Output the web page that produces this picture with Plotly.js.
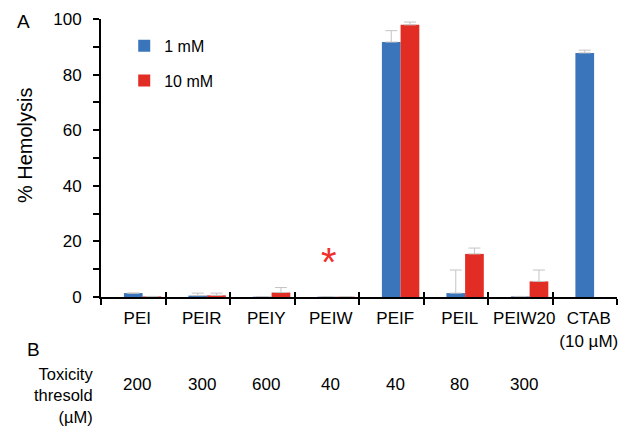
<!DOCTYPE html>
<html>
<head>
<meta charset="utf-8">
<script src="https://cdn.plot.ly/plotly-3.0.1.min.js"></script>
<style>html,body{margin:0;padding:0;background:#fff;}#chart{width:621px;height:427px;}</style>
</head>
<body>
<div id="chart"></div>
<script>
// ---- data ----
const categories = ["PEI", "PEIR", "PEIY", "PEIW", "PEIF", "PEIL", "PEIW20", "CTAB<br>(10 µM)"];
const hemolysis1mM = [1.4, 0.5, 0.1, 0.1, 91.7, 1.4, 0.2, 87.8];
const error1mM = [0.0, 0.9, 0.0, 0.0, 4.1, 8.3, 0.0, 1.0];
const hemolysis10mM = [0.2, 0.6, 1.6, 0.1, 97.9, 15.5, 5.6, null];
const error10mM = [0.0, 0.8, 1.8, 0.0, 1.0, 2.1, 4.1, null];
const toxicityThreshold = ["200", "300", "600", "40", "40", "80", "300", ""];
const yTicks = [0, 20, 40, 60, 80, 100];

const FONT = "Liberation Sans, Arial, sans-serif";
const blue = "#3a74ba";
const red = "#e22d24";
const errColor = "#c4c4c4";

const barW = 0.29;

const traces = [
  {
    type: "bar", name: "1 mM", x: categories, y: hemolysis1mM,
    width: categories.map(() => barW), offset: categories.map(() => -barW / 2),
    marker: {color: blue, line: {width: 0}},
    error_y: {type: "data", symmetric: false, array: error1mM, arrayminus: categories.map(() => 0),
              color: errColor, thickness: 1, width: 6},
    legendgroup: "a", hoverinfo: "skip"
  },
  {
    type: "bar", name: "10 mM", x: categories, y: hemolysis10mM,
    width: categories.map(() => barW), offset: categories.map(() => barW / 2),
    marker: {color: red, line: {width: 0}},
    error_y: {type: "data", symmetric: false, array: error10mM, arrayminus: categories.map(() => 0),
              color: errColor, thickness: 1, width: 6},
    legendgroup: "b", hoverinfo: "skip"
  },
  {
    type: "bar", x: categories, y: categories.map(() => 0), xaxis: "x2",
    showlegend: false, hoverinfo: "skip", marker: {color: "rgba(0,0,0,0)"}
  }
];

const annotations = [
  {text: "A", xref: "paper", yref: "paper", x: -0.167, y: 0.99, xanchor: "left", yanchor: "middle",
   showarrow: false, font: {family: FONT, size: 19, color: "#000"}},
  {text: "B", xref: "paper", yref: "paper", x: -0.148, y: -0.19, xanchor: "left", yanchor: "middle",
   showarrow: false, font: {family: FONT, size: 19, color: "#000"}},
  {text: "% Hemolysis", xref: "paper", yref: "paper", x: -0.147, y: 0.547, xanchor: "center", yanchor: "middle",
   textangle: -90, showarrow: false, font: {family: FONT, size: 20, color: "#000"}},
  {text: "Toxicity<br>thresold<br>(µM)", xref: "paper", yref: "paper", x: -0.012, y: -0.353,
   xanchor: "right", yanchor: "middle", align: "right", showarrow: false,
   font: {family: FONT, size: 16.5, color: "#000"}},
  {text: "*", xref: "x", yref: "y", x: "PEIW", y: 12.5, xshift: 2, showarrow: false,
   font: {family: FONT, size: 40, color: "#f0302a"}, yanchor: "middle"}
];
categories.forEach((c, i) => {
  if (toxicityThreshold[i]) {
    annotations.push({text: toxicityThreshold[i], xref: "x", yref: "paper", x: c, y: -0.315,
      xshift: 4, yanchor: "middle", showarrow: false, font: {family: FONT, size: 17, color: "#000"}});
  }
});

const layout = {
  width: 621, height: 427,
  margin: {l: 101, r: 4, t: 19, b: 130},
  paper_bgcolor: "#fff", plot_bgcolor: "#fff",
  font: {family: FONT, size: 16, color: "#000"},
  barmode: "overlay",
  showlegend: true,
  legend: {x: 0.045, y: 0.965, xanchor: "left", yanchor: "top", bgcolor: "rgba(0,0,0,0)",
           font: {family: FONT, size: 16, color: "#000"}, tracegroupgap: 11, traceorder: "grouped"},
  xaxis: {
    type: "category", categoryorder: "array", categoryarray: categories, range: [-0.5, 7.5],
    showline: true, linecolor: "#000", linewidth: 2, showgrid: false, zeroline: false,
    ticks: "outside", tickson: "boundaries", ticklen: 6, tickwidth: 2, tickcolor: "#000",
    tickangle: 0, automargin: false,
    tickfont: {family: FONT, size: 17, color: "#000"}, ticklabelshift: 4, ticklabelstandoff: 5,
    fixedrange: true
  },
  xaxis2: {
    type: "category", categoryorder: "array", categoryarray: categories, range: [-0.5, 7.5],
    overlaying: "x", anchor: "y", side: "bottom", matches: "x",
    showline: false, showgrid: false, zeroline: false, showticklabels: false,
    ticks: "inside", tickson: "boundaries", ticklen: 5, tickwidth: 2, tickcolor: "#000"
  },
  yaxis: {
    range: [0, 100], tickvals: yTicks, ticktext: yTicks.map(String),
    showline: true, linecolor: "#000", linewidth: 2, showgrid: false, zeroline: false,
    ticks: "outside", ticklen: 6, tickwidth: 2, tickcolor: "#000",
    minor: {dtick: 10, tick0: 0, ticks: "outside", ticklen: 6, tickwidth: 2, tickcolor: "#000", showgrid: false},
    tickfont: {family: FONT, size: 17, color: "#000"}, ticklabelstandoff: 8, automargin: false,
    fixedrange: true
  },
  annotations: annotations
};

Plotly.newPlot("chart", traces, layout, {displayModeBar: false, staticPlot: true});
</script>
</body>
</html>
